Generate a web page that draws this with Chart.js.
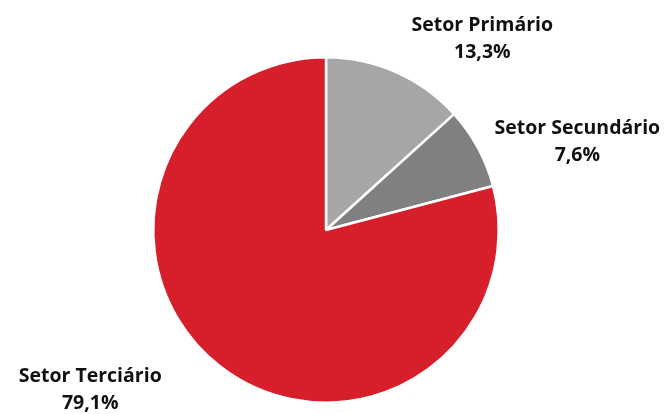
<!DOCTYPE html>
<html>
<head>
<meta charset="utf-8">
<script src="https://cdn.jsdelivr.net/npm/chart.js@4"></script>
<style>
  html, body { margin: 0; padding: 0; background: #fff; }
  #wrap { width: 669px; height: 414px; }
</style>
</head>
<body>
<div id="wrap"><canvas id="pieChart"></canvas></div>
<script>
const labels = ['Setor Primário', 'Setor Secundário', 'Setor Terciário'];
const values = [13.3, 7.6, 79.1];
const colors = ['#A6A6A6', '#808080', '#D71F2B'];

// label placement, in units of the pie radius relative to its centre
const labelOffsets = [[0.905, -1.11], [1.455, -0.51], [-1.365, 0.925]];

const fmt = v => v.toFixed(1).replace('.', ',') + '%';

const sliceLabels = {
    id: 'sliceLabels',
    afterDatasetsDraw(chart) {
        const c = chart.ctx;
        const arcs = chart.getDatasetMeta(0).data;
        c.save();
        c.font = 'bold 19.5px "Open Sans", "DejaVu Sans", sans-serif';
        c.fillStyle = '#111111';
        c.textAlign = 'center';
        c.textBaseline = 'middle';
        arcs.forEach((arc, i) => {
            const r = arc.outerRadius;
            const x = arc.x + labelOffsets[i][0] * r;
            const y = arc.y + labelOffsets[i][1] * r;
            c.fillText(labels[i], x, y - 13);
            c.fillText(fmt(values[i]), x, y + 14);
        });
        c.restore();
    }
};

const ctx = document.getElementById('pieChart').getContext('2d');
const pieChart = new Chart(ctx, {
    type: 'pie',
    data: {
        labels: labels,
        datasets: [{
            data: values,
            backgroundColor: colors,
            borderColor: '#ffffff',
            borderWidth: 2.5
        }]
    },
    options: {
        responsive: true,
        maintainAspectRatio: false,
        animation: false,
        layout: { padding: { top: 55, bottom: 9, left: 152, right: 169 } },
        plugins: {
            legend: { display: false },
            tooltip: { enabled: false }
        }
    },
    plugins: [sliceLabels]
});
</script>
</body>
</html>
